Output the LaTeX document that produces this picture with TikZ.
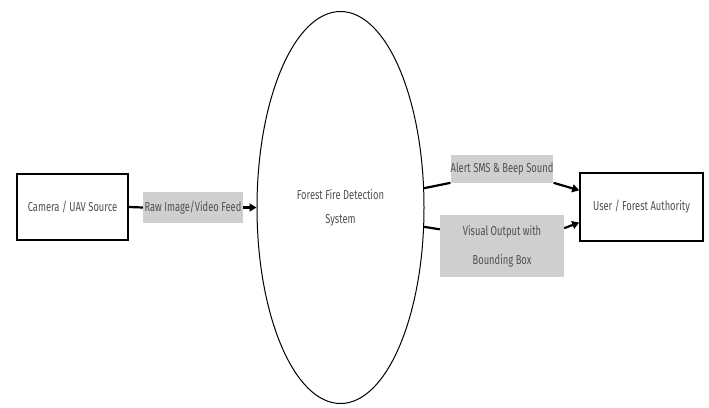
\documentclass[tikz,border=0pt]{standalone}
\usepackage{fontspec}
\setmainfont[FakeStretch=0.72]{Fira Sans}
\usetikzlibrary{shapes.geometric,arrows.meta}
\definecolor{txt}{HTML}{505050}
\definecolor{lbl}{HTML}{CFCFCF}
\tikzset{
  boxnode/.style={draw=black, line width=1.6pt, rectangle, fill=white, inner sep=0pt, text=txt, font=\fontsize{13}{15}\selectfont},
  lblnode/.style={fill=lbl, rectangle, inner sep=0pt, text=txt, font=\fontsize{13}{15}\selectfont, align=center},
  conn/.style={line width=2.2pt, draw=black},
  arr/.style={conn, -{Triangle[length=7pt,width=8pt]}},
}
\begin{document}
\begin{tikzpicture}[x=1pt,y=-1pt]
\useasboundingbox (0,0) rectangle (709,407);
\node[draw=black, line width=1pt, ellipse, minimum width=167pt, minimum height=392pt, inner sep=0pt, text=txt, font=\fontsize{13}{24}\selectfont, align=center] (sys) at (340.5,207.5) {Forest Fire Detection\\System};
\node[boxnode, minimum width=111pt, minimum height=66pt] (cam) at (72.5,207) {Camera / UAV Source};
\node[boxnode, minimum width=123pt, minimum height=68pt] (usr) at (641.5,207) {User / Forest Authority};
\node[lblnode, minimum width=100pt, minimum height=31pt] (raw) at (193,207.5) {Raw Image/Video Feed};
\node[lblnode, minimum width=102pt, minimum height=28pt] (alert) at (502,169) {Alert SMS \& Beep Sound};
\node[lblnode, minimum width=124pt, minimum height=62pt, font=\fontsize{13}{29}\selectfont] (vis) at (502,246) {Visual Output with\\Bounding Box};
\draw[conn] (cam.east) -- (raw.west);
\draw[arr] (raw.east) -- (sys.west);
\draw[conn] (sys.13) -- (alert.195);
\draw[arr] (alert.-15) -- (usr.165);
\draw[conn] (sys.-13) -- (vis.165);
\draw[arr] (vis.16) -- (usr.194);
\end{tikzpicture}
\end{document}
